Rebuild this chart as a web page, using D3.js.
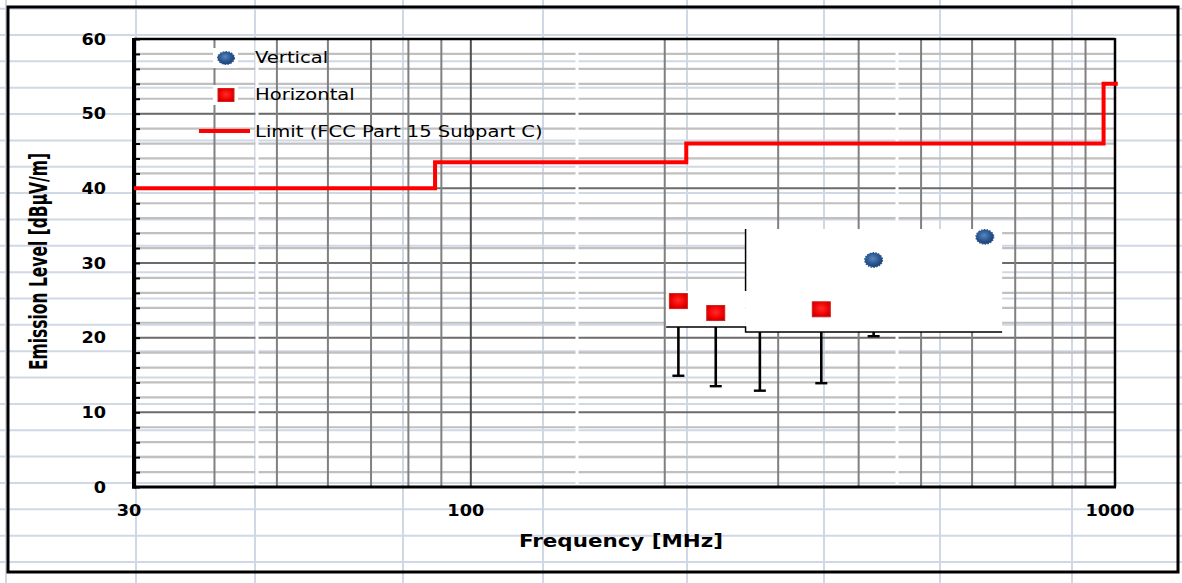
<!DOCTYPE html>
<html><head><meta charset="utf-8">
<script src="https://cdn.jsdelivr.net/npm/d3@7"></script>
<style>body{margin:0;background:#fff}svg{display:block}</style>
</head><body><svg id="c" width="1182" height="583"></svg>
<script>
// ---------- data ----------
const yTickValues = [0, 10, 20, 30, 40, 50, 60];
const xTickLabels = [30, 100, 1000];
const xMinorGrid = [40, 50, 60, 70, 80, 90, 200, 300, 400, 500, 600, 700, 800, 900];
const xMajorGrid = [100];
const yMinorGrid = [2,4,6,8,12,14,16,18,22,24,26,28,32,34,36,38,42,44,46,48,52,54,56,58];
const yMajorGrid = [10, 20, 30, 40, 50];

const freqH  = [210, 240, 350];
const levelH = [24.9, 23.3, 23.8];
const lowH   = [14.9, 13.5, 13.9];

const freqV  = [422, 628];
const levelV = [30.4, 33.5];
const lowV   = [20.2, 22.5];

// point hidden behind the pasted white patch (only its bar is visible)
const freqHidden  = [281];
const levelHidden = [21.7];
const lowHidden   = [12.9];

const limitFreq  = [30, 88, 88, 216, 216, 960, 960, 1010];
const limitLevel = [40, 40, 43.5, 43.5, 46, 46, 54, 54];

const legendLabels = ["Vertical", "Horizontal", "Limit (FCC Part 15 Subpart  C)"];

// white patches pasted over the chart (in data units)
const patchFreq0  = [201, 267];
const patchFreq1  = [267, 668];
const patchLevel0 = [21.43, 20.76];
const patchLevel1 = [26.25, 34.55];

// ---------- drawing ----------
const svg = d3.select("#c");
const W = 1182, H = 583;
const x = d3.scaleLog().domain([30, 1000]).range([134, 1115]);
const y = d3.scaleLinear().domain([0, 60]).range([487, 39]);

function stretch(sel, k) {
  sel.each(function () {
    const L = this.getComputedTextLength();
    d3.select(this).attr("textLength", L * k).attr("lengthAdjust", "spacingAndGlyphs");
  });
}

// spreadsheet background grid
const sheet = svg.append("g");
const sheetCols = [6, 136, 255, 403, 543, 687, 824, 940, 1072];
d3.range(-1, 22).forEach(k => {
  const yy = 35 + 26.35 * k;
  sheet.append("line").attr("x1", 0).attr("x2", W).attr("y1", yy).attr("y2", yy)
    .attr("stroke", "#d0d7e5").attr("stroke-width", 2);
});
sheetCols.forEach(xx => sheet.append("line").attr("x1", xx).attr("x2", xx).attr("y1", 0).attr("y2", H)
  .attr("stroke", "#d0d7e5").attr("stroke-width", 2));

// outer chart border
svg.append("rect").attr("x", 8).attr("y", 7).attr("width", 1170).attr("height", 565)
  .attr("fill", "none").attr("stroke", "#000").attr("stroke-width", 3);

// plot gridlines
const grid = svg.append("g");
grid.selectAll(".hmin").data(yMinorGrid).join("line")
  .attr("x1", x(30)).attr("x2", x(1000)).attr("y1", d => y(d)).attr("y2", d => y(d))
  .attr("stroke", "#c0c0c0").attr("stroke-width", 2.2);
grid.selectAll(".hmaj").data(yMajorGrid).join("line")
  .attr("x1", x(30)).attr("x2", x(1000)).attr("y1", d => y(d)).attr("y2", d => y(d))
  .attr("stroke", "#6b6b6b").attr("stroke-width", 2);
grid.selectAll(".vmin").data(xMinorGrid).join("line")
  .attr("x1", d => x(d)).attr("x2", d => x(d)).attr("y1", y(60)).attr("y2", y(0))
  .attr("stroke", "#808080").attr("stroke-width", 2);
grid.selectAll(".vmaj").data(xMajorGrid).join("line")
  .attr("x1", d => x(d)).attr("x2", d => x(d)).attr("y1", y(60)).attr("y2", y(0))
  .attr("stroke", "#505050").attr("stroke-width", 2);

// white gap artifacts in the gridlines
[257, 577, 897].forEach(xx => svg.append("rect").attr("x", xx - 1.5).attr("y", y(60) + 2)
  .attr("width", 3).attr("height", y(0) - y(60) - 4).attr("fill", "#fff"));

// y axis ticks (inside), every 2
const yAxis = d3.axisLeft(y).tickValues(d3.range(0, 61, 2)).tickSize(-6).tickFormat("");
const yg = svg.append("g").attr("transform", `translate(${x(30)},0)`).call(yAxis);
yg.select(".domain").remove();
yg.selectAll(".tick line").attr("stroke", "#000").attr("stroke-width", 2);

// plot frame
svg.append("line").attr("x1", x(30)).attr("x2", x(1000)).attr("y1", y(60)).attr("y2", y(60))
  .attr("stroke", "#000").attr("stroke-width", 2.5);
svg.append("line").attr("x1", x(1000)).attr("x2", x(1000)).attr("y1", y(60) - 1).attr("y2", y(0))
  .attr("stroke", "#000").attr("stroke-width", 2.5);
svg.append("line").attr("x1", x(30)).attr("x2", x(30)).attr("y1", y(60) - 1).attr("y2", y(0) + 1.5)
  .attr("stroke", "#000").attr("stroke-width", 4);
svg.append("line").attr("x1", x(30) - 2).attr("x2", x(1000) + 1).attr("y1", y(0)).attr("y2", y(0))
  .attr("stroke", "#000").attr("stroke-width", 3);

// tick labels
const tickFont = "'DejaVu Sans', Verdana, sans-serif";
const yl = svg.append("g").selectAll("text").data(yTickValues).join("text")
  .attr("x", 106).attr("y", d => y(d) + 5.5).attr("text-anchor", "end")
  .attr("font-family", tickFont).attr("font-weight", "bold").attr("font-size", 15.5).attr("fill", "#000")
  .text(d => d);
stretch(yl, 1.14);
const xl = svg.append("g").selectAll("text").data(xTickLabels).join("text")
  .attr("x", d => x(d) - 5).attr("y", 516).attr("text-anchor", "middle")
  .attr("font-family", tickFont).attr("font-weight", "bold").attr("font-size", 15.5).attr("fill", "#000")
  .text(d => d);
stretch(xl, 1.14);

// axis titles
svg.append("text").attr("x", 621).attr("y", 547).attr("text-anchor", "middle")
  .attr("font-family", tickFont).attr("font-weight", "bold").attr("font-size", 18)
  .attr("textLength", 204).attr("lengthAdjust", "spacingAndGlyphs")
  .text("Frequency [MHz]");
svg.append("text").attr("transform", "translate(47,261.5) rotate(-90)").attr("text-anchor", "middle")
  .attr("font-family", "'Liberation Sans Narrow', 'DejaVu Sans Condensed', 'Arial Narrow', sans-serif")
  .attr("font-weight", "bold").attr("font-size", 25)
  .attr("textLength", 217).attr("lengthAdjust", "spacingAndGlyphs")
  .text("Emission Level [dBµV/m]");

// limit line
const limitData = limitFreq.map((f, i) => [f, limitLevel[i]]);
svg.append("path").datum(limitData)
  .attr("d", d3.line().x(d => x(d[0])).y(d => y(d[1])))
  .attr("fill", "none").attr("stroke", "#ff0000").attr("stroke-width", 4).attr("stroke-linejoin", "miter");

// error bars (drawn before patches)
const bars = [];
freqH.forEach((f, i) => bars.push({ f, v: levelH[i], lo: lowH[i] }));
freqV.forEach((f, i) => bars.push({ f, v: levelV[i], lo: lowV[i] }));
freqHidden.forEach((f, i) => bars.push({ f, v: levelHidden[i], lo: lowHidden[i] }));
const eb = svg.append("g");
eb.selectAll(".stem").data(bars).join("line")
  .attr("x1", d => x(d.f)).attr("x2", d => x(d.f)).attr("y1", d => y(d.v)).attr("y2", d => y(d.lo))
  .attr("stroke", "#000").attr("stroke-width", 2.6);
eb.selectAll(".cap").data(bars).join("line")
  .attr("x1", d => x(d.f) - 6).attr("x2", d => x(d.f) + 6).attr("y1", d => y(d.lo)).attr("y2", d => y(d.lo))
  .attr("stroke", "#000").attr("stroke-width", 2.4);

// white patches
const patches = patchFreq0.map((f, i) => ({ f0: f, f1: patchFreq1[i], l0: patchLevel0[i], l1: patchLevel1[i] }));
svg.append("g").selectAll("rect").data(patches).join("rect")
  .attr("x", d => x(d.f0)).attr("width", d => x(d.f1) - x(d.f0))
  .attr("y", d => y(d.l1)).attr("height", d => y(d.l0) - y(d.l1)).attr("fill", "#fff");
// patch outline
const p0 = patches[0], p1 = patches[1];
svg.append("path")
  .attr("d", `M${x(p1.f0)},${y(p1.l1)} V${y(p0.l1)} M${x(p0.f0)},${y(p0.l0)} H${x(p1.f0)} V${y(p1.l0)} H${x(p1.f1)}`)
  .attr("fill", "none").attr("stroke", "#000").attr("stroke-width", 1.5);

// gradients
const defs = svg.append("defs");
const gb = defs.append("radialGradient").attr("id", "gb").attr("cx", "45%").attr("cy", "40%").attr("r", "60%");
gb.append("stop").attr("offset", "0%").attr("stop-color", "#5a86bf");
gb.append("stop").attr("offset", "60%").attr("stop-color", "#2b5892");
gb.append("stop").attr("offset", "100%").attr("stop-color", "#1c3e6c");
const gr = defs.append("radialGradient").attr("id", "gr").attr("cx", "50%").attr("cy", "45%").attr("r", "65%");
gr.append("stop").attr("offset", "0%").attr("stop-color", "#ff2a2a");
gr.append("stop").attr("offset", "65%").attr("stop-color", "#ee0000");
gr.append("stop").attr("offset", "100%").attr("stop-color", "#b80000");

function drawCircle(g, cx, cy, rx, ry) {
  g.append("ellipse").attr("cx", cx).attr("cy", cy).attr("rx", rx).attr("ry", ry)
    .attr("fill", "url(#gb)").attr("stroke", "#2a5690").attr("stroke-width", 1.4)
    .attr("stroke-dasharray", "1.6 1.2");
}
function drawSquare(g, cx, cy, w, h) {
  g.append("rect").attr("x", cx - w / 2).attr("y", cy - h / 2).attr("width", w).attr("height", h)
    .attr("fill", "url(#gr)").attr("stroke", "#d42020").attr("stroke-width", 1);
}

// markers
const mk = svg.append("g");
freqH.forEach((f, i) => drawSquare(mk, x(f), y(levelH[i]), 18, 15));
freqV.forEach((f, i) => drawCircle(mk, x(f), y(levelV[i]), 8.8, 7.2));

// legend
const lg = svg.append("g");
lg.append("rect").attr("x", 213).attr("y", 48).attr("width", 25).attr("height", 20).attr("fill", "#fff");
lg.append("rect").attr("x", 213).attr("y", 85).attr("width", 25).attr("height", 20).attr("fill", "#fff");
drawCircle(lg, 226, 58, 8.3, 6.3);
drawSquare(lg, 226, 95, 16, 13);
lg.append("line").attr("x1", 199).attr("x2", 250).attr("y1", 131).attr("y2", 131)
  .attr("stroke", "#ff0000").attr("stroke-width", 4);
const lt = lg.selectAll(".lt").data(legendLabels).join("text")
  .attr("x", 255).attr("y", (d, i) => 63 + i * 37)
  .attr("font-family", "'DejaVu Sans', Verdana, sans-serif").attr("font-size", 16.3).attr("fill", "#000")
  .text(d => d);
stretch(lt, 1.2);
</script></body></html>
